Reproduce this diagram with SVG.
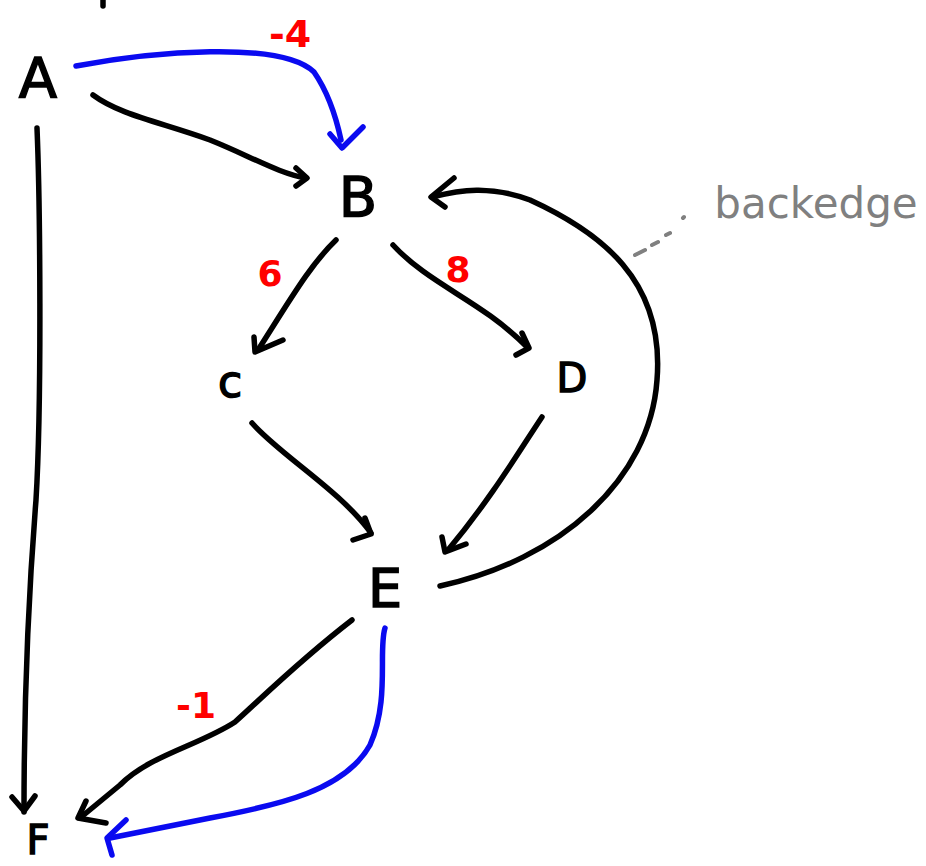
<svg xmlns="http://www.w3.org/2000/svg" width="926" height="866" viewBox="0 0 926 866">
<style>
.e{fill:none;stroke:#000;stroke-width:5.5;stroke-linecap:round;stroke-linejoin:round}
.b{stroke:#0a0af0}
.n{font-family:"DejaVu Sans","Liberation Sans",sans-serif;fill:#000;stroke:#000;stroke-width:1.5;text-anchor:middle}
.w{font-family:"DejaVu Sans","Liberation Sans",sans-serif;fill:#ff0000;text-anchor:middle;font-weight:bold}
</style>
<rect width="926" height="866" fill="#fff"/>
<g id="connectors">
<path class="e" d="M103,0 L103,6"/>
<path class="e b" d="M76,66 C150,52 280,40 314,72 Q332,98 341,140"/>
<path class="e b" d="M330,134 L342,148 L363,127"/>
<path class="e" d="M93,95 C120,115 160,122 210,140 C250,156 280,174 306,178"/>
<path class="e" d="M296,168 L307,178 L296,186"/>
<path class="e" d="M37,128 C40,200 42,400 36,500 C28,600 24,700 24,812"/>
<path class="e" d="M12,797 L24,811 L35,796"/>
<path class="e" d="M336,240 C310,265 290,300 258,350"/>
<path class="e" d="M254,337 L255,352 L283,340"/>
<path class="e" d="M393,245 C430,285 480,300 526,346"/>
<path class="e" d="M522,333 L529,348 L516,355"/>
<path class="e" d="M252,423 C280,455 340,490 371,533"/>
<path class="e" d="M365,518 L371,534 L353,540"/>
<path class="e" d="M542,417 C520,450 490,500 448,550"/>
<path class="e" d="M442,537 L445,552 L466,544"/>
<path class="e" d="M440,586 C560,560 650,480 657,380 C665,280 600,232 530,200 C490,185 460,190 432,197"/>
<path class="e" d="M454,178 L431,197 L445,207"/>
<path class="e" d="M352,620 C300,660 265,695 235,722 C200,745 150,755 120,785 L80,818"/>
<path class="e" d="M86,801 L78,818 L106,823"/>
<path class="e b" d="M385,628 C378,650 390,700 370,745 C345,790 280,805 210,818 L110,838"/>
<path class="e b" d="M126,820 L107,838 L112,855"/>
<path d="M635,255 L645,250 M652,245 L658,242 M666,235 L670,233 M683,218 L684,217" fill="none" stroke="#808080" stroke-width="4" stroke-linecap="round"/>
</g>
<g id="A"><text class="n" x="38" y="97" font-size="56">A</text></g>
<g id="B"><text class="n" x="358" y="216" font-size="56">B</text></g>
<g id="C"><text class="n" x="230" y="397" font-size="44">c</text></g>
<g id="D"><text class="n" x="572" y="392" font-size="40">D</text></g>
<g id="E"><text class="n" x="385" y="607" font-size="54">E</text></g>
<g id="F"><text class="n" x="38" y="854" font-size="40">F</text></g>
<g id="labels">
<text class="w" x="290" y="47" font-size="38">-4</text>
<text class="w" x="270" y="286" font-size="36">6</text>
<text class="w" x="458" y="282" font-size="36">8</text>
<text class="w" x="196" y="718" font-size="36">-1</text>
<text x="816" y="218" font-size="42" font-family="DejaVu Sans,Liberation Sans,sans-serif" fill="#808080" text-anchor="middle">backedge</text>
</g>
</svg>
